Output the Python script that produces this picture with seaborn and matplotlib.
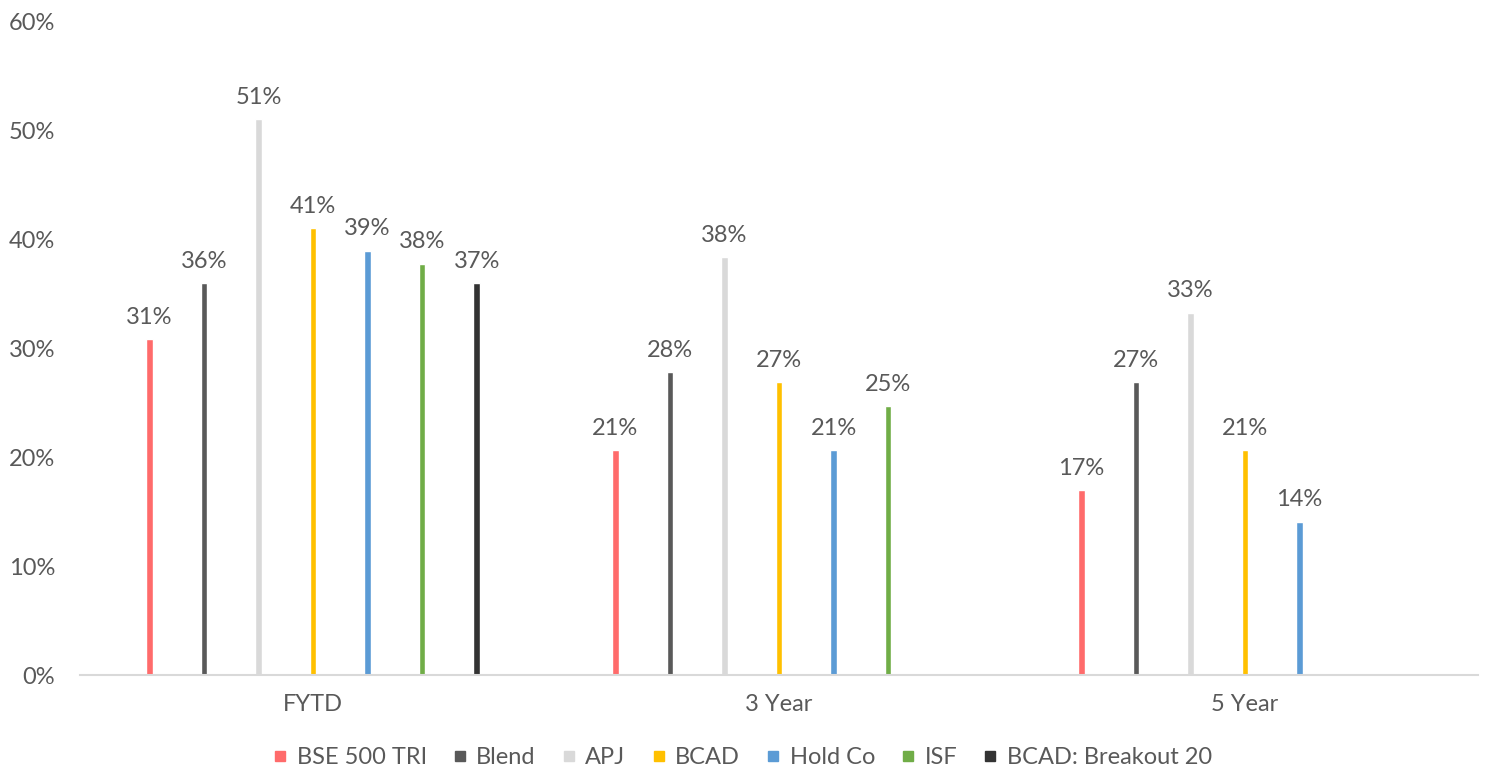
import seaborn as sns
import matplotlib.pyplot as plt
import pandas as pd
import numpy as np
from matplotlib.lines import Line2D

plt.switch_backend('agg')

periods = ['FYTD', '3 Year', '5 Year']
series = ['BSE 500 TRI', 'Blend', 'APJ', 'BCAD', 'Hold Co', 'ISF', 'BCAD: Breakout 20']
colors = ['#FF6B6B', '#595959', '#D9D9D9', '#FFC000', '#5B9BD5', '#70AD47', '#333333']

# bar heights (%) per period, in series order; None = no bar
fytd = [30.9, 36.0, 51.1, 41.1, 39.0, 37.8, 36.0]
yr3 = [20.7, 27.8, 38.4, 26.9, 20.7, 24.7, None]
yr5 = [17.0, 26.9, 33.3, 20.7, 14.1, None, None]

# data labels as printed on the chart
fytd_lbl = ['31%', '36%', '51%', '41%', '39%', '38%', '37%']
yr3_lbl = ['21%', '28%', '38%', '27%', '21%', '25%', '']
yr5_lbl = ['17%', '27%', '33%', '21%', '14%', '', '']

rows = []
labels = {}
for p, vals, lbls in zip(periods, [fytd, yr3, yr5], [fytd_lbl, yr3_lbl, yr5_lbl]):
    for s, v, l in zip(series, vals, lbls):
        if v is not None:
            rows.append({'period': p, 'series': s, 'value': v})
            labels[(p, s)] = l
df = pd.DataFrame(rows)

sns.set_style('white')
plt.rcParams['font.family'] = ['Lato', 'DejaVu Sans']
txt = '#595959'
fs = 17

fig = plt.figure(figsize=(14.85, 7.7), dpi=100)
ax = fig.add_axes([80/1485, 1-675/770, (1478-80)/1485, (675-22)/770])

sns.barplot(data=df, x='period', y='value', hue='series', order=periods,
            hue_order=series, palette=colors, width=0.82, gap=0.88,
            dodge=True, ax=ax, legend=False, saturation=1, errorbar=None)

for s, cont in zip(series, ax.containers):
    present = [p for p in periods if (p, s) in labels]
    ax.bar_label(cont, labels=[labels[(p, s)] for p in present],
                 padding=8, fontsize=fs, color=txt)

ax.set_ylim(0, 60)
ax.set_xlim(-0.5, 2.5)
ax.set_yticks(np.arange(0, 61, 10))
ax.set_yticklabels([f'{t}%' for t in range(0, 61, 10)])
ax.set_xlabel('')
ax.set_ylabel('')
ax.tick_params(axis='both', length=0, labelsize=fs, colors=txt)
ax.tick_params(axis='y', pad=18)
ax.tick_params(axis='x', pad=14)
for sp in ['top', 'right', 'left']:
    ax.spines[sp].set_visible(False)
ax.spines['bottom'].set_color('#D9D9D9')
ax.spines['bottom'].set_linewidth(1.5)

handles = [Line2D([0], [0], marker='s', color='none', markerfacecolor=c,
                  markeredgecolor=c, markersize=7) for c in colors]
fig.legend(handles, series, loc='center', bbox_to_anchor=(0.5, 1-758/770),
           ncol=7, frameon=False, fontsize=fs, labelcolor=txt,
           handlelength=0.6, handletextpad=0.4, columnspacing=1.1)

plt.savefig('out.png', dpi=100)
